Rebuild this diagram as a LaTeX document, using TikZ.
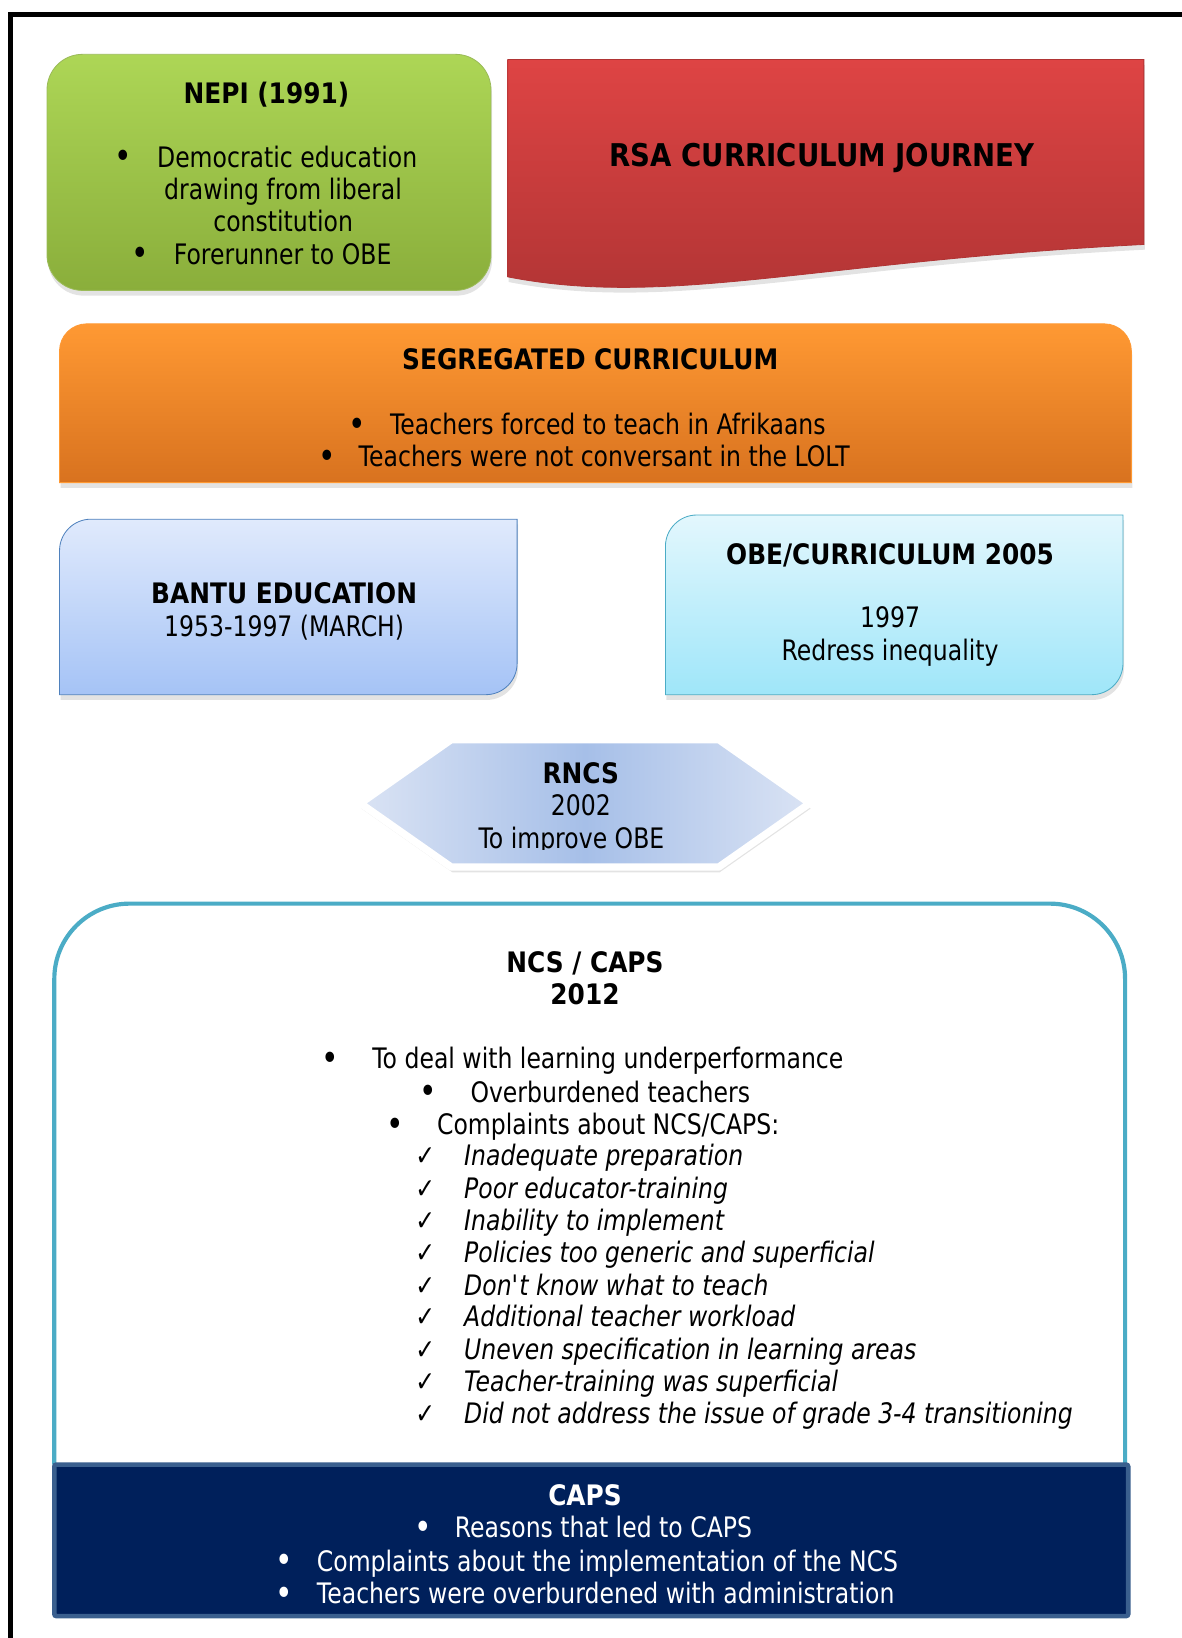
\documentclass[tikz,border=0pt]{standalone}
\usepackage{fontspec}
\setmainfont{DejaVu Sans}[FakeStretch=0.835,BoldFeatures={FakeStretch=0.88}]
\usetikzlibrary{shadows}

\definecolor{nepiTop}{HTML}{ADD656}
\definecolor{nepiBot}{HTML}{8AAE3B}
\definecolor{nepiLine}{HTML}{9BBB59}
\definecolor{rsaTop}{HTML}{DE4444}
\definecolor{rsaBot}{HTML}{B03434}
\definecolor{segTop}{HTML}{FF9933}
\definecolor{segBot}{HTML}{D8721F}
\definecolor{bantuTop}{HTML}{E0EAFC}
\definecolor{bantuBot}{HTML}{A5C3F6}
\definecolor{bantuLine}{HTML}{4F81BD}
\definecolor{obeTop}{HTML}{E3F7FD}
\definecolor{obeBot}{HTML}{9FE6F9}
\definecolor{obeLine}{HTML}{4BACC6}
\definecolor{rncsMid}{HTML}{A6BFE8}
\definecolor{rncsSide}{HTML}{DAE3F4}
\definecolor{capsFill}{HTML}{00205B}
\definecolor{capsLine}{HTML}{3A5F8E}

\newcommand{\bul}{\raisebox{-0.8pt}{\fontsize{17pt}{16pt}\selectfont •}}

\tikzset{
  txt/.style={anchor=base,inner sep=0pt},
  ltxt/.style={anchor=base west,inner sep=0pt},
  boxshadow/.style={drop shadow={opacity=0.22,shadow xshift=0.5pt,shadow yshift=-2.5pt}},
}

\begin{document}
\begin{tikzpicture}[x=0.5pt,y=-0.5pt,font=\fontsize{13.5pt}{16pt}\selectfont]
\useasboundingbox (0,0) rectangle (1131,1568);

% page frame
\draw[line width=2.6pt] (10,1568) -- (10,14) -- (1131,14);

% boxes
\draw[boxshadow,draw=nepiLine,top color=nepiTop,bottom color=nepiBot,rounded corners=17pt] (45,52) rectangle (470,278);
\draw[boxshadow,draw=rsaBot,top color=rsaTop,bottom color=rsaBot] (486,57) -- (1095,57) -- (1095,234) .. controls (780,250) and (640,295) .. (486,265) -- cycle;
\draw[boxshadow,draw=segTop,top color=segTop,bottom color=segBot,rounded corners=13pt] (57,400) -- (57,310) -- (1083,310) -- (1083,400) [sharp corners] -- (1083,462) -- (57,462) -- cycle;
\draw[boxshadow,draw=bantuLine,top color=bantuTop,bottom color=bantuBot,rounded corners=15pt] (57,581) -- (57,497) -- (276,497) [sharp corners] -- (495,497) -- (495,581) [rounded corners=15pt] -- (495,665) -- (276,665) [sharp corners] -- (57,665) -- cycle;
\draw[boxshadow,draw=obeLine,top color=obeTop,bottom color=obeBot,rounded corners=15pt] (637,579) -- (637,493) -- (856,493) [sharp corners] -- (1075,493) -- (1075,579) [rounded corners=15pt] -- (1075,665) -- (856,665) [sharp corners] -- (637,665) -- cycle;
\draw[boxshadow,draw=white,line width=3.5pt,line join=round,left color=rncsSide,right color=rncsSide,middle color=rncsMid] (345,769) -- (432,708) -- (688,708) -- (775,769) -- (688,830) -- (432,830) -- cycle;
\draw[line width=2pt,draw=obeLine,fill=white,rounded corners=36pt] (52,1402) -- (52,865) -- (1077,865) -- (1077,1402);
\draw[line width=2.2pt,draw=capsLine,fill=capsFill,rounded corners=1pt] (52,1402) rectangle (1080,1547);

% NEPI
\node[txt] (nepiT) at (255,99) {\textbf{NEPI (1991)}};
\node[txt] (nepiB1) at (118,160) {\bul};
\node[ltxt] (nepiL1) at (150,160) {Democratic education};
\node[txt] (nepiL2) at (271,191) {drawing from liberal};
\node[txt] (nepiL3) at (271,222) {constitution};
\node[txt] (nepiB2) at (134,253) {\bul};
\node[ltxt] (nepiL4) at (166,253) {Forerunner to OBE};

% title
\node[txt,font=\fontsize{15pt}{18pt}\selectfont\bfseries] (rsaT) at (787,159) {RSA CURRICULUM JOURNEY};

% segregated
\node[txt] (segT) at (565,354) {\textbf{SEGREGATED CURRICULUM}};
\node[txt] (segB1) at (342,416) {\bul};
\node[ltxt] (segL1) at (373,416) {Teachers forced to teach in Afrikaans};
\node[txt] (segB2) at (313,447) {\bul};
\node[ltxt] (segL2) at (343,447) {Teachers were not conversant in the LOLT};

% bantu / obe
\node[txt] (bantuT) at (272,578) {\textbf{BANTU EDUCATION}};
\node[txt] (bantuL1) at (272,609) {1953-1997 (MARCH)};
\node[txt] (obeT) at (852,540) {\textbf{OBE/CURRICULUM 2005}};
\node[txt] (obeL1) at (852,601) {1997};
\node[txt] (obeL2) at (852,632) {Redress inequality};

% rncs
\begin{scope}
\clip (345,700) rectangle (775,813);
\node[txt] (rncsT) at (556,750) {\textbf{RNCS}};
\node[txt] (rncsL1) at (556,781) {2002};
\node[txt] (rncsL2) at (547,812) {To improve OBE};
\end{scope}

% ncs / caps
\node[txt] (ncsT) at (560,931) {\textbf{NCS / CAPS}};
\node[txt] (ncsY) at (560,962) {\textbf{2012}};
\node[txt] (ncsB1) at (316,1023) {\bul};
\node[ltxt] (ncsL1) at (356,1023) {To deal with learning underperformance};
\node[txt] (ncsB2) at (410,1055) {\bul};
\node[ltxt] (ncsL2) at (450,1055) {Overburdened teachers};
\node[txt] (ncsB3) at (378,1086) {\bul};
\node[ltxt] (ncsL3) at (418,1086) {Complaints about NCS/CAPS:};

\node[txt] (chk1) at (407,1116) {✓};
\node[ltxt] (cmp1) at (444,1116) {\itshape Inadequate preparation};
\node[txt] (chk2) at (407,1147) {✓};
\node[ltxt] (cmp2) at (444,1147) {\itshape Poor educator-training};
\node[txt] (chk3) at (407,1178) {✓};
\node[ltxt] (cmp3) at (444,1178) {\itshape Inability to implement};
\node[txt] (chk4) at (407,1209) {✓};
\node[ltxt] (cmp4) at (444,1209) {\itshape Policies too generic and superficial};
\node[txt] (chk5) at (407,1240) {✓};
\node[ltxt] (cmp5) at (444,1240) {\itshape Don\textquotesingle t know what to teach};
\node[txt] (chk6) at (407,1270) {✓};
\node[ltxt] (cmp6) at (444,1270) {\itshape Additional teacher workload};
\node[txt] (chk7) at (407,1301) {✓};
\node[ltxt] (cmp7) at (444,1301) {\itshape Uneven specification in learning areas};
\node[txt] (chk8) at (407,1332) {✓};
\node[ltxt] (cmp8) at (444,1332) {\itshape Teacher-training was superficial};
\node[txt] (chk9) at (407,1363) {✓};
\node[ltxt] (cmp9) at (444,1363) {\itshape Did not address the issue of grade 3-4 transitioning};

% caps
\node[txt,white] (capsT) at (560,1441) {\textbf{CAPS}};
\node[txt,white] (capsB1) at (405,1472) {\bul};
\node[ltxt,white] (capsL1) at (435,1472) {Reasons that led to CAPS};
\node[txt,white] (capsB2) at (272,1504) {\bul};
\node[ltxt,white] (capsL2) at (303,1504) {Complaints about the implementation of the NCS};
\node[txt,white] (capsB3) at (272,1535) {\bul};
\node[ltxt,white] (capsL3) at (303,1535) {Teachers were overburdened with administration};
\end{tikzpicture}
\end{document}
